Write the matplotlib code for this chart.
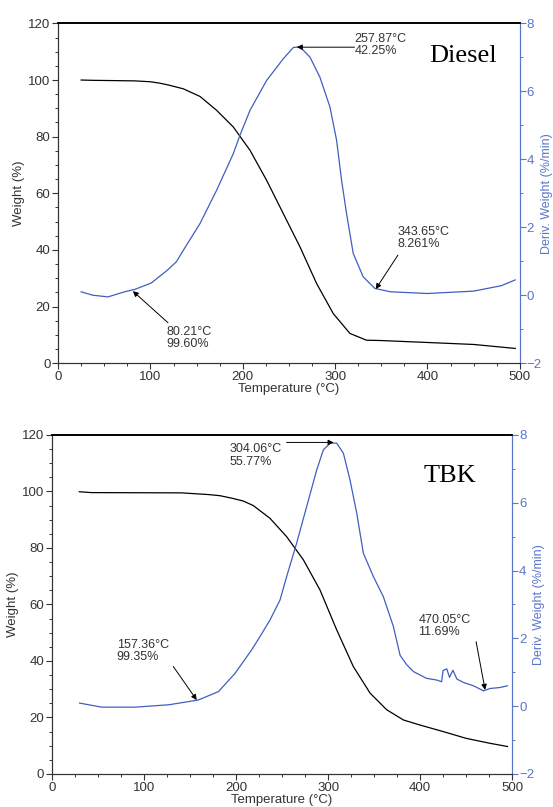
import matplotlib.pyplot as plt
from matplotlib.ticker import MultipleLocator

plt.rcParams['font.family'] = ['Liberation Sans', 'DejaVu Sans']

# Diesel - weight (%) and derivative weight (%/min) vs temperature
diesel_t_w = [25, 37, 60, 83, 99.6, 110, 120, 135.6, 153.7, 171.7, 189.8, 207.8, 225.8, 243.9, 261.9,
              280, 298, 316, 334, 348.6, 400, 450, 495]
diesel_w = [100, 99.9, 99.8, 99.7, 99.4, 98.9, 98.2, 96.9, 94.2, 89.3, 83.4, 75.2, 64.6, 52.8, 41.1,
            28.1, 17.5, 10.5, 8.1, 8.0, 7.3, 6.6, 5.2]
diesel_t_d = [25, 37.5, 54, 72, 83, 101, 117.6, 128, 135.6, 153.7, 171.7, 189.8, 197, 207.8, 225.8, 243.9,
              254.7, 261.9, 272.7, 283.5, 294.4, 301.6, 307, 312.4, 319.6, 330.4, 343, 360, 400, 450,
              480, 495]
diesel_d = [0.10, 0.0, -0.05, 0.10, 0.17, 0.36, 0.72, 0.98, 1.32, 2.11, 3.09, 4.17, 4.71, 5.44, 6.32,
            6.96, 7.29, 7.31, 7.01, 6.42, 5.54, 4.56, 3.38, 2.40, 1.23, 0.54, 0.20, 0.1, 0.05, 0.12,
            0.28, 0.45]

# TBK
tbk_t_w = [29.7, 42.8, 141, 170, 182.6, 195.7, 208, 218.8, 236.9, 255, 273.2, 291.3, 309.4, 327.5,
           345.7, 363.8, 381.9, 400, 425, 450, 475, 495]
tbk_w = [99.9, 99.6, 99.5, 98.9, 98.5, 97.6, 96.6, 95.0, 90.5, 84.0, 75.8, 65.1, 51.0, 38.0, 28.6, 22.7,
         19.1, 17.3, 15.0, 12.6, 10.9, 9.7]
tbk_t_d = [30, 54, 90.6, 127, 159, 181, 199, 217, 226, 236.9, 247.8, 255, 265.9, 276.8, 287.7, 294.9,
           302.2, 309.4, 316.7, 323.9, 331.2, 338.4, 349.3, 360.1, 371, 378.3, 385.5, 392.8, 407, 418,
           423.5, 425, 429, 432, 435.7, 440, 447, 458, 469, 476, 487, 495]
tbk_d = [0.09, -0.03, -0.03, 0.04, 0.18, 0.43, 0.97, 1.66, 2.05, 2.54, 3.13, 3.82, 4.81, 5.89, 6.97, 7.56,
         7.76, 7.76, 7.46, 6.67, 5.69, 4.51, 3.82, 3.23, 2.35, 1.50, 1.22, 1.02, 0.82, 0.77, 0.72, 1.05,
         1.1, 0.85, 1.06, 0.8, 0.7, 0.6, 0.45, 0.52, 0.55, 0.6]

# annotations: (text, text pos, arrow tail, arrow head) in deriv-axis coords
diesel_notes = [("257.87°C\n42.25%", (321, 7.72), (321, 7.30), (258.5, 7.30)),
                ("343.65°C\n8.261%", (368, 2.05), (368, 1.18), (344, 0.18)),
                ("80.21°C\n99.60%", (117.5, -0.9), (119, -0.81), (81, 0.12))]
tbk_notes = [("304.06°C\n55.77%", (192.7, 7.75), (255, 7.78), (306, 7.78)),
             ("157.36°C\n99.35%", (70.3, 1.98), (131.8, 1.17), (157.3, 0.18)),
             ("470.05°C\n11.69%", (398.2, 2.72), (460.9, 1.90), (470.7, 0.48))]

BLUE = '#3f5fbf'
AXBLUE = '#5a76c8'
GREY = '#333333'

fig = plt.figure(figsize=(5.53, 8.07), dpi=100)


def panel(rect, tw, w, td, d, notes, name, name_pos):
    ax = fig.add_axes(rect)
    ax2 = ax.twinx()
    ax.plot(tw, w, color='black', lw=0.9)
    ax2.plot(td, d, color=BLUE, lw=0.9)
    ax.set_xlim(0, 500)
    ax.set_ylim(0, 120)
    ax2.set_ylim(-2, 8)
    ax.xaxis.set_major_locator(MultipleLocator(100))
    ax.xaxis.set_minor_locator(MultipleLocator(25))
    ax.yaxis.set_major_locator(MultipleLocator(20))
    ax.yaxis.set_minor_locator(MultipleLocator(5))
    ax2.yaxis.set_major_locator(MultipleLocator(2))
    ax2.yaxis.set_minor_locator(MultipleLocator(1))
    ax.tick_params(which='major', length=4, width=0.8, color=GREY, labelsize=9.5, labelcolor=GREY, pad=1.5)
    ax.tick_params(which='minor', length=2.5, width=0.7, color=GREY)
    ax2.tick_params(which='major', length=4, width=0.8, color=AXBLUE, labelsize=9.5, labelcolor=AXBLUE, pad=1)
    ax2.tick_params(which='minor', length=2.5, width=0.7, color=AXBLUE)
    for a in (ax, ax2):
        a.spines['left'].set_color(GREY)
        a.spines['bottom'].set_color(GREY)
        a.spines['top'].set_color('black')
        a.spines['right'].set_color(AXBLUE)
        a.spines['top'].set_linewidth(1.2)
    ax.set_xlabel("Temperature (°C)", fontsize=9.5, color=GREY, labelpad=0)
    ax.set_ylabel("Weight (%)", fontsize=9.5, color=GREY, labelpad=2)
    ax2.set_ylabel("Deriv. Weight (%/min)", fontsize=9, color=AXBLUE, labelpad=-1)
    for txt, tpos, tail, head in notes:
        ax2.text(tpos[0], tpos[1], txt, fontsize=9, color=GREY, va='top', ha='left', linespacing=1.05)
        ax2.annotate("", xy=head, xytext=tail,
                     arrowprops=dict(arrowstyle='-|>', color='black', lw=0.7, mutation_scale=8,
                                     shrinkA=0, shrinkB=0))
    ax2.text(name_pos[0], name_pos[1], name, family=['Liberation Serif', 'DejaVu Serif'],
             fontsize=19, color='black', va='baseline', ha='left')
    return ax, ax2


panel([0.105, 0.550, 0.835, 0.421], diesel_t_w, diesel_w, diesel_t_d, diesel_d,
      diesel_notes, "Diesel", (401.5, 6.85))
panel([0.094, 0.041, 0.832, 0.420], tbk_t_w, tbk_w, tbk_t_d, tbk_d,
      tbk_notes, "TBK", (404.3, 6.62))

fig.savefig("out.png", dpi=100)
